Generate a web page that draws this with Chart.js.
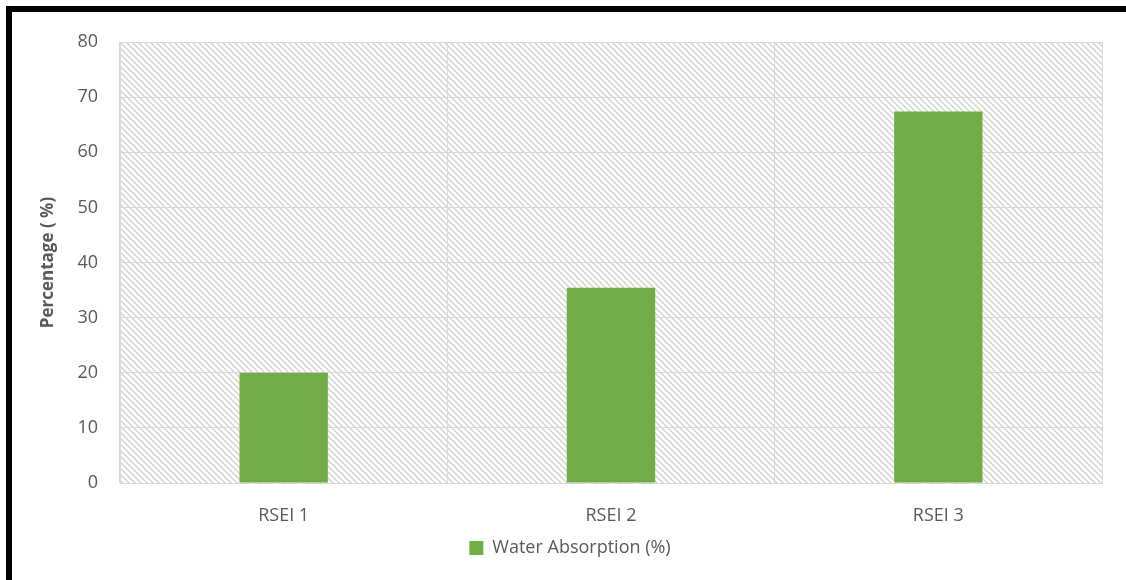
<!DOCTYPE html>
<html>
<head>
<meta charset="utf-8">
<script src="https://cdn.jsdelivr.net/npm/chart.js@4/dist/chart.umd.min.js"></script>
<style>
  html, body { margin: 0; padding: 0; background: #fff; }
  #wrap { position: relative; width: 1126px; height: 580px; overflow: hidden; }
  #frame {
    position: absolute; left: 6px; top: 6px; width: 1200px; height: 700px;
    border-left: 6px solid #000; border-top: 6px solid #000;
  }
  canvas { position: absolute; left: 0; top: 0; }
</style>
</head>
<body>
<div id="wrap">
  <div id="frame"></div>
  <canvas id="chart" width="1126" height="580"></canvas>
</div>
<script>
const categories = ["RSEI 1", "RSEI 2", "RSEI 3"];
const seriesName = "Water Absorption (%)";
const absorption = [20, 35.4, 67.4];
const yTicks = { min: 0, max: 80, step: 10 };

const FONT = "'Open Sans', 'Noto Sans', sans-serif";
const TEXT = "#595959";
const GRID = "#d9d9d9";

// diagonal hatch for the plot background
const makeHatch = (ctx) => {
  const c = document.createElement("canvas");
  c.width = 6;
  c.height = 6;
  const p = c.getContext("2d");
  p.fillStyle = "#fff";
  p.fillRect(0, 0, 6, 6);
  p.strokeStyle = "#d4d4d4";
  p.lineWidth = 1.5;
  p.beginPath();
  p.moveTo(-1, -1); p.lineTo(7, 7);
  p.moveTo(-1, 5); p.lineTo(1, 7);
  p.moveTo(5, -1); p.lineTo(7, 1);
  p.stroke();
  return ctx.createPattern(c, "repeat");
};

const hatchPlugin = {
  id: "hatch",
  beforeDraw(chart) {
    const { ctx, chartArea: a } = chart;
    ctx.save();
    ctx.fillStyle = makeHatch(ctx);
    ctx.fillRect(a.left, a.top, a.right - a.left, a.bottom - a.top);
    ctx.restore();
  },
};

const ctx = document.getElementById("chart").getContext("2d");

new Chart(ctx, {
  type: "bar",
  data: {
    labels: categories,
    datasets: [
      {
        label: seriesName,
        data: absorption,
        backgroundColor: "#70ad47",
        borderWidth: 0,
        categoryPercentage: 1,
        barPercentage: 0.27,
      },
    ],
  },
  options: {
    responsive: false,
    animation: false,
    layout: { padding: { left: 38, right: 24, top: 42, bottom: 13 } },
    plugins: {
      tooltip: { enabled: false },
      legend: {
        position: "bottom",
        labels: {
          color: TEXT,
          font: { family: FONT, size: 18 },
          boxWidth: 14,
          boxHeight: 14,
          padding: 6,
        },
      },
    },
    scales: {
      x: {
        grid: { color: GRID, lineWidth: 1, drawTicks: false, offset: true },
        border: { color: GRID, width: 1 },
        ticks: { color: TEXT, font: { family: FONT, size: 18 }, padding: 22 },
        afterFit(s) { s.height = 50; },
      },
      y: {
        min: yTicks.min,
        max: yTicks.max,
        grid: { color: GRID, lineWidth: 1, drawTicks: false },
        border: { color: GRID, width: 1 },
        ticks: {
          stepSize: yTicks.step,
          color: TEXT,
          font: { family: FONT, size: 18 },
          padding: 22,
        },
        title: {
          display: true,
          text: "Percentage ( %)",
          color: TEXT,
          font: { family: FONT, size: 17, weight: "bold" },
          padding: { top: 0, bottom: 0 },
        },
        afterFit(s) { s.width = 82; },
      },
    },
  },
  plugins: [hatchPlugin],
});
</script>
</body>
</html>
